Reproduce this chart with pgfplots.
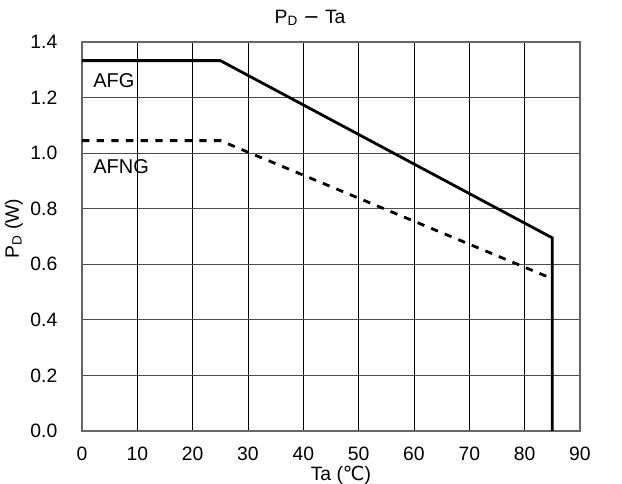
\documentclass[border=0pt]{standalone}
\usepackage{pgfplots}
\pgfplotsset{compat=1.18}
\usepackage{fontspec}
\setmainfont{Liberation Sans}
\newfontfamily\dv{DejaVu Sans}
\begin{document}
\begin{tikzpicture}
\useasboundingbox (-61.5pt,-39.75pt) rectangle (405pt,323.25pt);
\begin{axis}[
  scale only axis,
  width=373.5pt, height=291.75pt,
  xmin=0, xmax=90, ymin=0, ymax=1.4,
  xtick={0,10,...,90},
  ytick={0,0.2,...,1.4},
  yticklabel style={xshift=-15pt, /pgf/number format/fixed, /pgf/number format/fixed zerofill, /pgf/number format/precision=1},
  /pgf/number format/assume math mode=true,
  tick label style={font=\fontsize{14.5}{16}\selectfont},
  xticklabel style={inner sep=1pt, yshift=-10.5pt},
  major tick length=0pt,
  xtick pos=left, ytick pos=left,
  xmajorgrids, ymajorgrids,
  x grid style={black, line width=0.6pt},
  y grid style={black!70, line width=0.7pt},
  axis line style={black!60, line width=0.8pt},
  clip=false,
]
\addplot[black, line width=2.1pt] coordinates {
  (0,1.333) (25,1.333) (85,0.695) (85,0)
};
\addplot[black, line width=2.1pt, dash pattern=on 5.5pt off 5.5pt] coordinates {
  (0,1.045) (25,1.045) (85,0.548)
};
\node[anchor=west, inner sep=0pt, font=\fontsize{15}{16}\selectfont] at (axis cs:2.0,1.26) {AFG};
\node[anchor=west, inner sep=0pt, font=\fontsize{15}{16}\selectfont] at (axis cs:2.0,0.953) {AFNG};
\node[font=\fontsize{14.5}{16}\selectfont] at (rel axis cs:0.458,1.062) {P\textsubscript{D} {\dv −} Ta};
\node[inner sep=0pt, font=\fontsize{14.5}{16}\selectfont] at (rel axis cs:0.52,-0.113) {Ta ({\dv ℃})};
\node[rotate=90, font=\fontsize{14.5}{16}\selectfont] at (rel axis cs:-0.137,0.52) {P\textsubscript{D} (W)};
\end{axis}
\end{tikzpicture}
\end{document}
